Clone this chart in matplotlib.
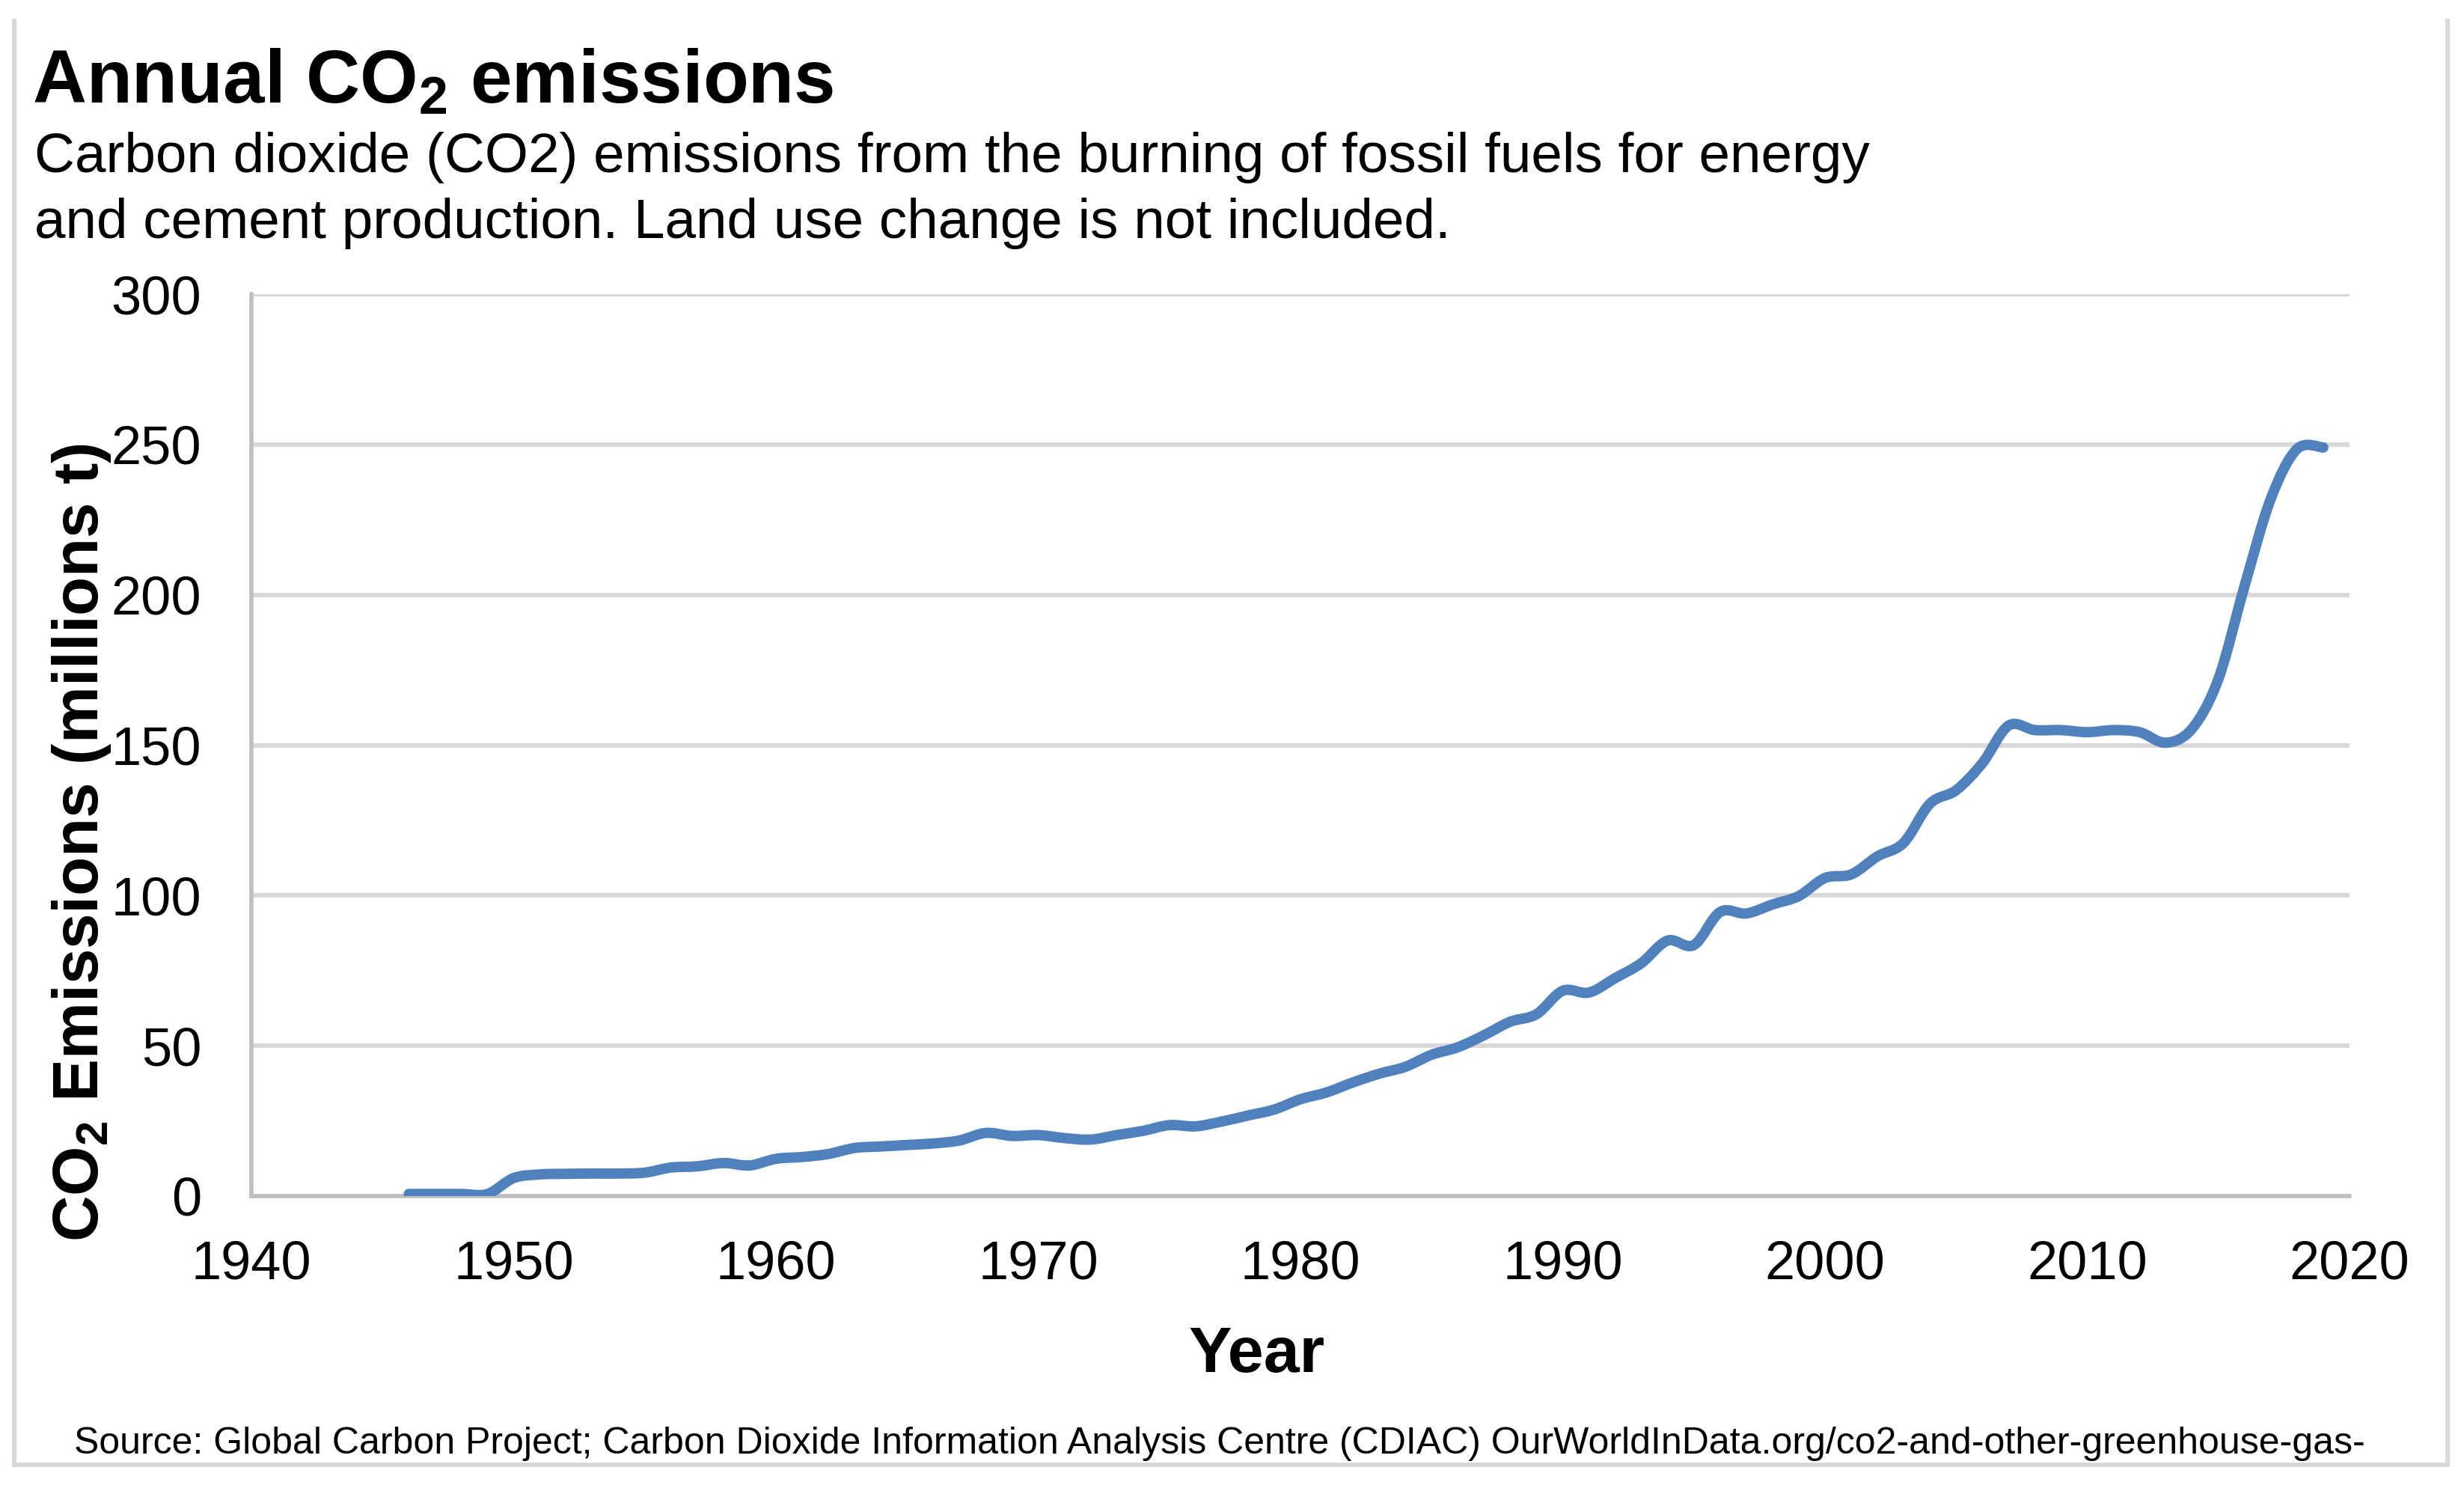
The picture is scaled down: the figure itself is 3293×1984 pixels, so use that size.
import numpy as np
import matplotlib
matplotlib.use('Agg')
import matplotlib.pyplot as plt
from matplotlib.path import Path
from matplotlib.patches import PathPatch
from matplotlib.lines import Line2D

plt.rcParams['font.family'] = ['Liberation Sans', 'DejaVu Sans']
plt.rcParams['mathtext.default'] = 'regular'

# data (millions of tonnes CO2)
years = np.arange(1946, 2020)
emissions = [0.7, 0.7, 0.7, 0.7, 6.0, 7.2, 7.4, 7.5, 7.5, 7.8,
             9.5, 9.9, 11.0, 10.2, 12.4, 13.0, 14.0, 16.0, 16.5, 17.0,
             17.5, 18.5, 21.0, 20.0, 20.3, 19.3, 18.8, 20.3, 21.7, 23.6,
             23.2, 24.8, 26.8, 28.8, 32.2, 34.5, 37.8, 40.7, 43.0, 47.0,
             49.5, 53.5, 58.0, 60.5, 68.3, 67.7, 72.5, 77.5, 85.0, 83.5,
             94.5, 94.0, 97.0, 99.8, 105.8, 107.0, 113.0, 117.5, 130.5, 135.0,
             144.0, 156.5, 155.0, 155.0, 154.3, 155.0, 154.3, 150.8, 155.5, 172.0,
             203.0, 232.0, 248.5, 249.0]
xticks = [1940, 1950, 1960, 1970, 1980, 1990, 2000, 2010, 2020]
yticks = [0, 50, 100, 150, 200, 250, 300]

title = 'Annual CO$_2$ emissions'
subtitle1 = 'Carbon dioxide (CO2) emissions from the burning of fossil fuels for energy'
subtitle2 = 'and cement production. Land use change is not included.'
ylabel = 'CO$_2$ Emissions (millions t)'
xlabel = 'Year'
source = ('Source: Global Carbon Project; Carbon Dioxide Information Analysis Centre (CDIAC) '
          'OurWorldInData.org/co2-and-other-greenhouse-gas-')

W, H = 3293, 1984
fig = plt.figure(figsize=(W / 200, H / 200), dpi=200)
ax = fig.add_axes([336 / W, 1 - 1598 / H, (3140 - 336) / W, (1598 - 393) / H])

# smoothed line (Excel style), bezier through the points
x = years.astype(float)
y = np.array(emissions, dtype=float)
px = np.concatenate([[x[0]], x, [x[-1]]])
py = np.concatenate([[y[0]], y, [y[-1]]])
verts = [(x[0], y[0])]
codes = [Path.MOVETO]
for i in range(1, len(px) - 2):
    c1 = (px[i] + (px[i + 1] - px[i - 1]) / 6, py[i] + (py[i + 1] - py[i - 1]) / 6)
    c2 = (px[i + 1] - (px[i + 2] - px[i]) / 6, py[i + 1] - (py[i + 2] - py[i]) / 6)
    verts += [c1, c2, (px[i + 1], py[i + 1])]
    codes += [Path.CURVE4] * 3
ax.add_patch(PathPatch(Path(verts, codes), fill=False, edgecolor='#4F81BD', lw=5,
                       capstyle='round', joinstyle='round', zorder=3))

ax.set_xlim(1940, 2020)
ax.set_ylim(0, 300)
ax.set_xticks(xticks)
ax.set_yticks(yticks)
ax.tick_params(axis='x', length=0, pad=21, labelsize=26)
ax.tick_params(axis='y', length=0, pad=24, labelsize=26)
ax.grid(axis='y', color='#D9D9D9', lw=2.2, zorder=0)
ax.set_axisbelow(True)
for s in ['top', 'right']:
    ax.spines[s].set_visible(False)
for s in ['left', 'bottom']:
    ax.spines[s].set_color('#BFBFBF')
    ax.spines[s].set_linewidth(2.0)

fig.text(43 / W, 1 - 137 / H, title, fontsize=35.9, fontweight='bold', va='baseline')
fig.text(46 / W, 1 - 230 / H, subtitle1, fontsize=26.9, va='baseline')
fig.text(46 / W, 1 - 318 / H, subtitle2, fontsize=26.9, va='baseline')
fig.text(109 / W, 1 - 1126 / H, ylabel, fontsize=30.7, fontweight='bold', rotation=90,
         ha='center', va='center')
fig.text(1680 / W, 1 - 1833 / H, xlabel, fontsize=31, fontweight='bold', ha='center',
         va='baseline')
fig.text(99 / W, 1 - 1942 / H, source, fontsize=18, va='baseline')

# light frame around the chart
fc = '#D9D9D9'
fig.add_artist(Line2D([19 / W, 19 / W], [1 - 28 / H, 1 - 1957 / H], color=fc, lw=2.2))
fig.add_artist(Line2D([3271 / W, 3271 / W], [1 - 28 / H, 1 - 1957 / H], color=fc, lw=2.2))
fig.add_artist(Line2D([19 / W, 3271 / W], [1 - 1957 / H, 1 - 1957 / H], color=fc, lw=2.2))

fig.savefig('out.png', dpi=200)
